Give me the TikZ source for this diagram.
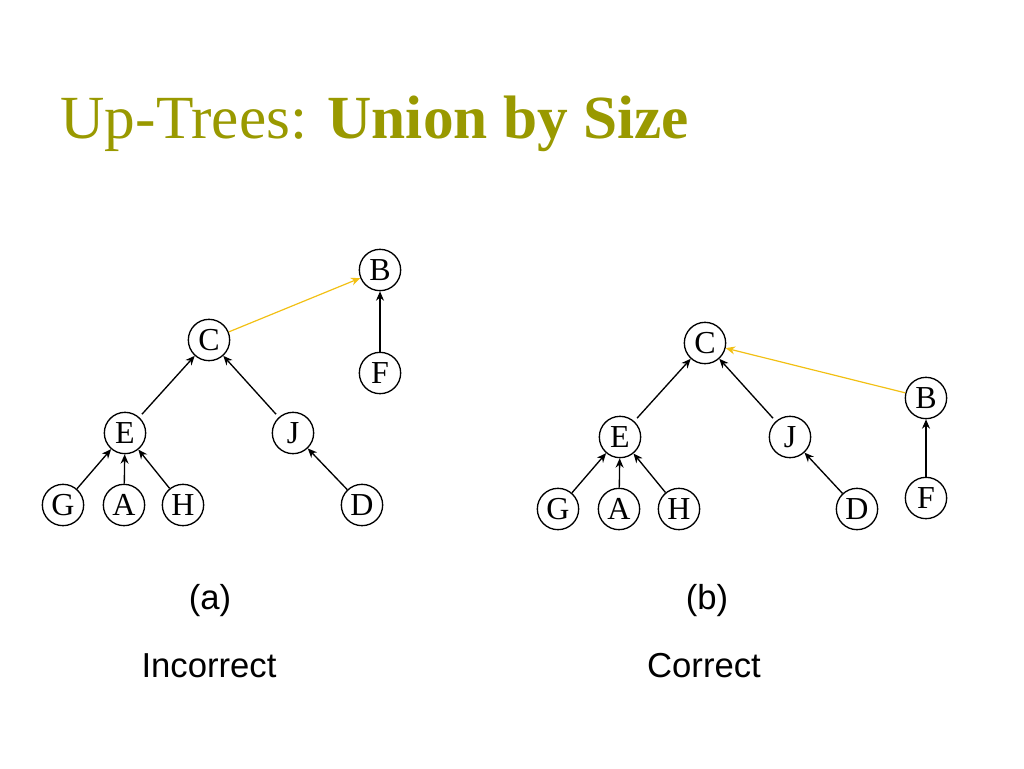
\documentclass[tikz,border=0pt]{standalone}
\usepackage{fontspec}
\setmainfont{Liberation Serif}
\setsansfont{Liberation Sans}
\usetikzlibrary{arrows.meta}
\usetikzlibrary{positioning}
\definecolor{titleolive}{RGB}{153,153,0}
\definecolor{unionyellow}{RGB}{242,192,20}
\tikzset{
  vert/.style={draw, circle, minimum size=31pt, inner sep=0pt, font=\fontsize{24}{24}\selectfont},
  caption/.style={font=\sffamily\fontsize{26}{26}\selectfont},
  unionlink/.style={->, unionyellow, line width=0.9pt},
}

\begin{document}
\begin{tikzpicture}[x=0.75pt,y=-0.75pt,line width=1pt,>={Stealth[length=7pt,width=6pt]}]
    \useasboundingbox (0,0) rectangle (1024,768);
    \node[anchor=base west, inner sep=0pt, text=titleolive, font=\fontsize{46}{46}\selectfont] (title) at (60,138) {Up-Trees: \textbf{Union by Size}};

    % (a) incorrect
    \node[vert] (aB) at (380,270) {B};
    \node[vert] (aC) at (209,340) {C};
    \node[vert] (aF) at (380,373) {F};
    \node[vert] (aE) at (125,433) {E};
    \node[vert] (aJ) at (293,433) {J};
    \node[vert] (aG) at (63,505) {G};
    \node[vert] (aA) at (124,505) {A};
    \node[vert] (aH) at (183,505) {H};
    \node[vert] (aD) at (362,505) {D};

    \draw[->,shorten <=3pt] (aE) -- (aC);
    \draw[->,shorten <=3pt] (aJ) -- (aC);
    \draw[->] (aG) -- (aE);
    \draw[->] (aA) -- (aE);
    \draw[->] (aH) -- (aE);
    \draw[->] (aD) -- (aJ);
    \draw[->] (aF) -- (aB);
    \draw[unionlink] (aC) -- (aB);

    % (b) correct
    \node[vert] (bC) at (705,343) {C};
    \node[vert] (bB) at (926,398) {B};
    \node[vert] (bE) at (620,437) {E};
    \node[vert] (bJ) at (790,437) {J};
    \node[vert] (bF) at (926,498) {F};
    \node[vert] (bG) at (558,509) {G};
    \node[vert] (bA) at (619,509) {A};
    \node[vert] (bH) at (679,509) {H};
    \node[vert] (bD) at (857,509) {D};

    \draw[->,shorten <=3pt] (bE) -- (bC);
    \draw[->,shorten <=3pt] (bJ) -- (bC);
    \draw[->] (bG) -- (bE);
    \draw[->] (bA) -- (bE);
    \draw[->] (bH) -- (bE);
    \draw[->] (bD) -- (bJ);
    \draw[->] (bF) -- (bB);
    \draw[unionlink] (bB) -- (bC);

    \node[caption] (alabel) at (210,601) {(a)};
    \node[caption] (aname) at (209,666) {Incorrect};
    \node[caption] (blabel) at (707,601) {(b)};
    \node[caption] (bname) at (704,666) {Correct};
\end{tikzpicture}
\end{document}
